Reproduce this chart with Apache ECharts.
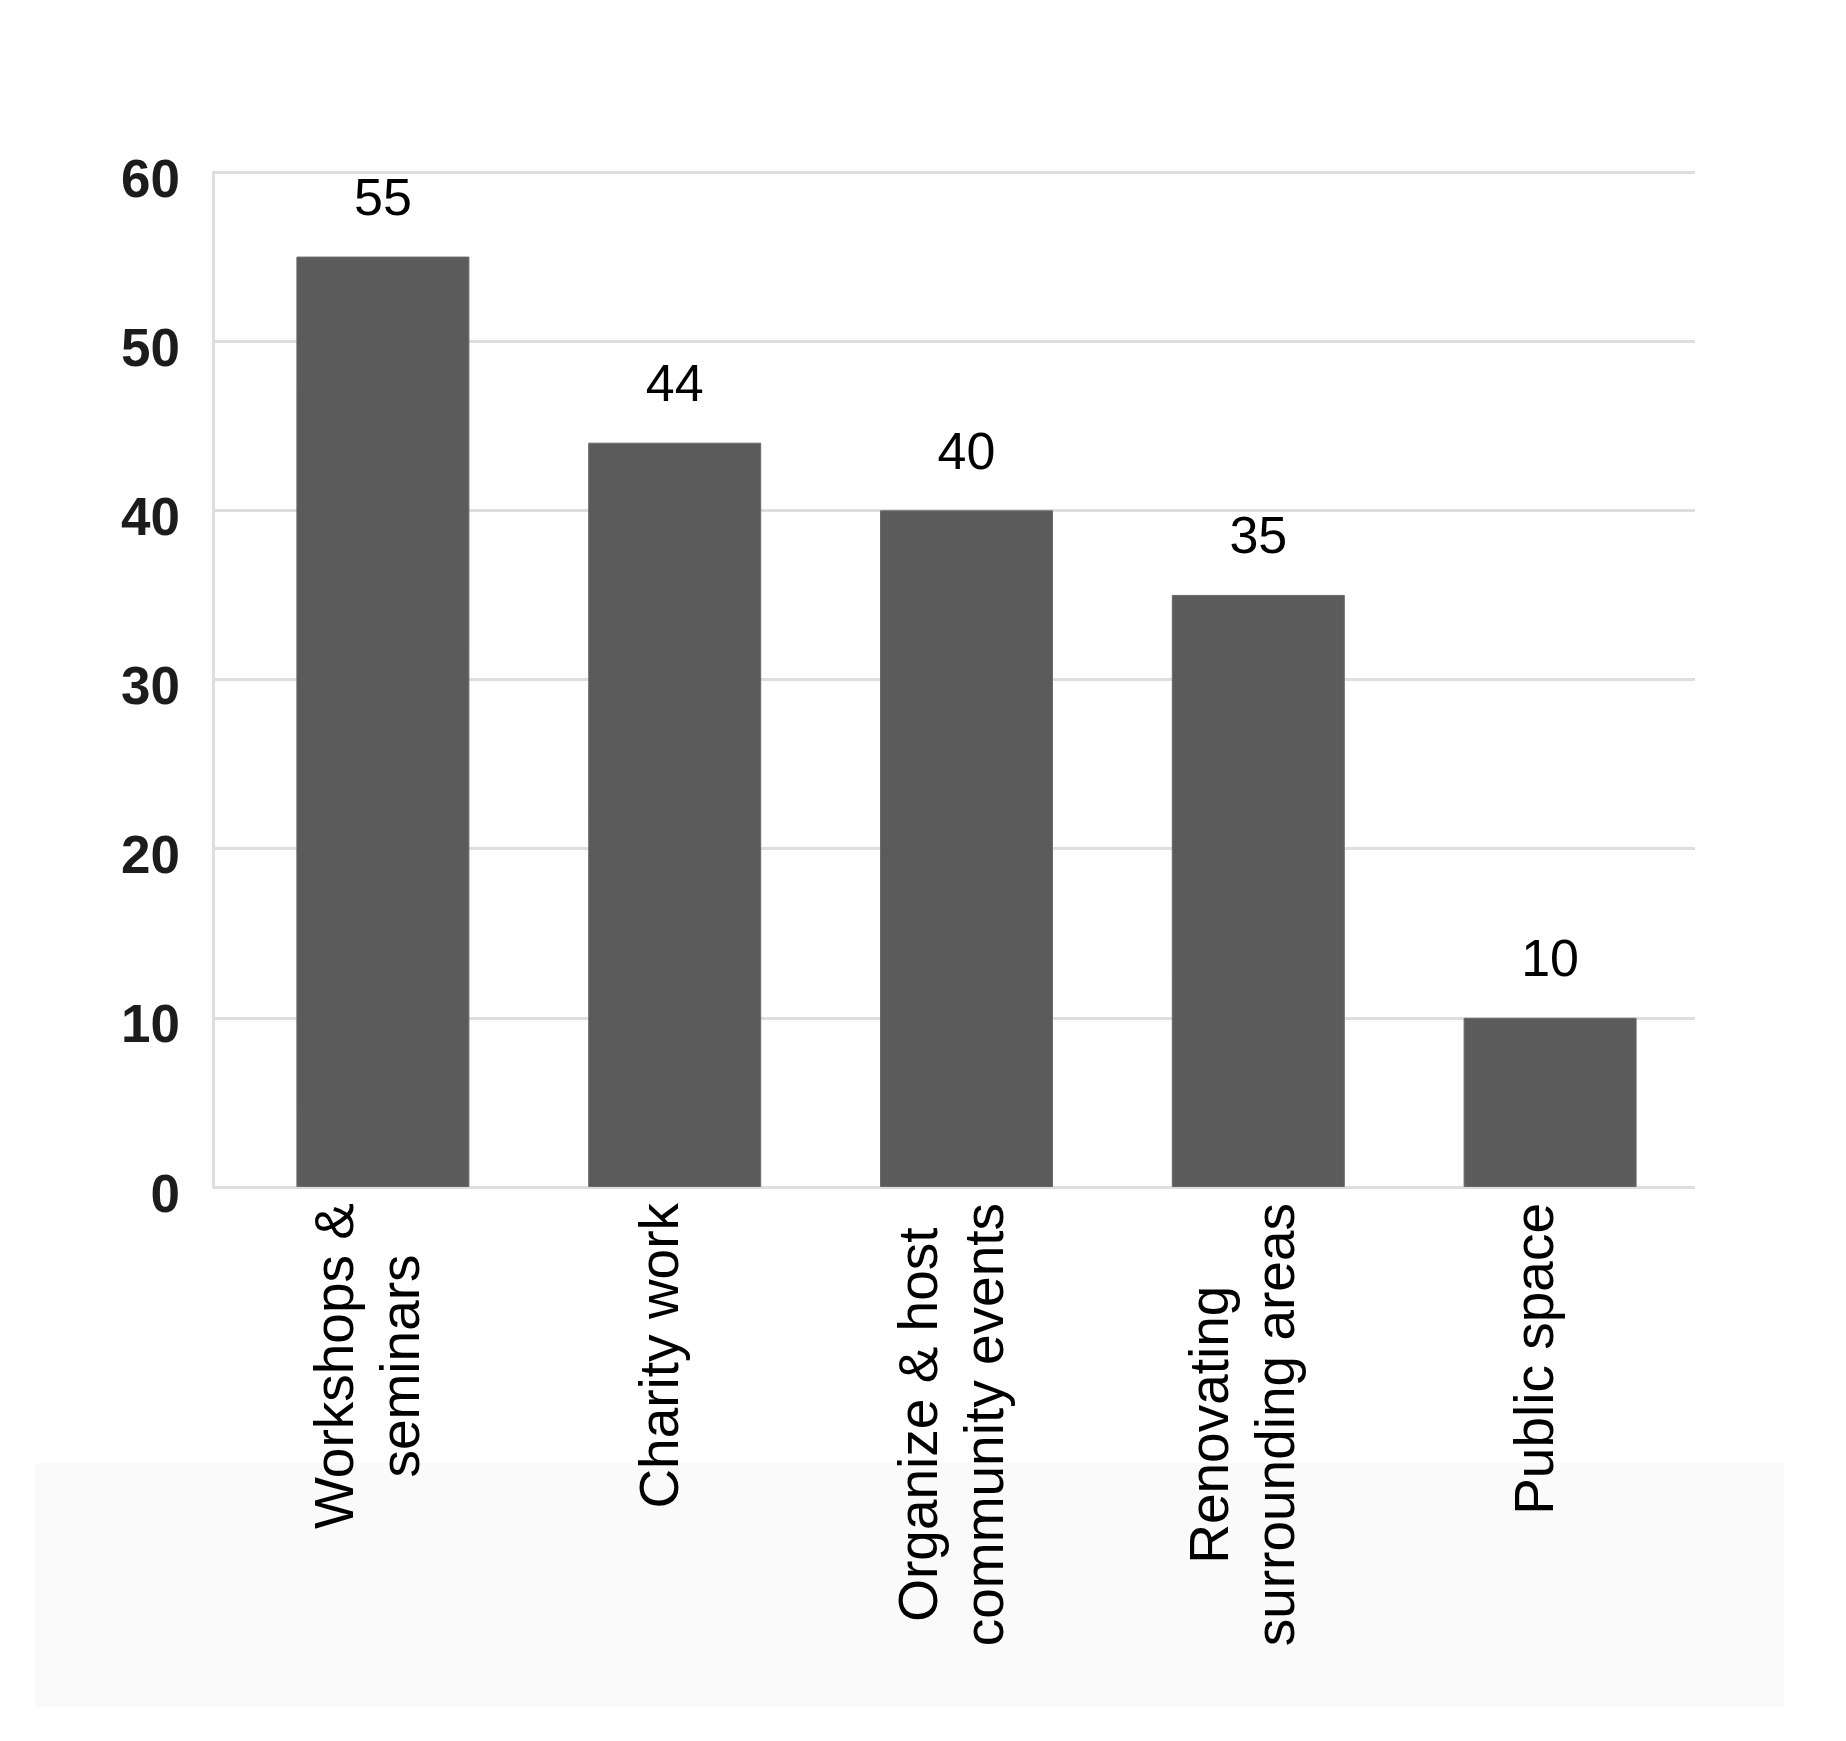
<!DOCTYPE html>
<html>
<head>
<meta charset="utf-8">
<script src="https://cdn.jsdelivr.net/npm/echarts@6/dist/echarts.min.js"></script>
<style>
html,body{margin:0;padding:0;background:#fff;}
#main{width:1846px;height:1741px;}
</style>
</head>
<body>
<div id="main"></div>
<script>
var categories = ['Workshops &\nseminars', 'Charity work', 'Organize & host\ncommunity events', 'Renovating\nsurrounding areas', 'Public space'];
var values = [55, 44, 40, 35, 10];
var yTicks = [0, 10, 20, 30, 40, 50, 60];

var chart = echarts.init(document.getElementById('main'));
chart.setOption({
    backgroundColor: '#fff',
    animation: false,
    graphic: [{
        type: 'rect',
        z: -10,
        shape: {x: 35, y: 1463, width: 1749, height: 244},
        style: {fill: '#fafafa'}
    }],
    grid: [
        // frame with gridlines and y axis
        {left: 213, right: 151, top: 172, bottom: 554},
        // bars, slightly offset from the y axis
        {left: 237, right: 150, top: 172, bottom: 554}
    ],
    xAxis: [{
        gridIndex: 0,
        type: 'category',
        data: categories,
        show: false
    }, {
        gridIndex: 1,
        type: 'category',
        data: categories,
        axisLine: {show: false},
        axisTick: {show: false},
        axisLabel: {
            rotate: 90,
            interval: 0,
            margin: 16,
            padding: [0, 0, 24, 0],
            color: '#000',
            fontFamily: 'Liberation Sans',
            fontSize: 55,
            lineHeight: 66,
            formatter: function (v) {
                return v.split('\n').map(function (s) { return '{c|' + s + '}'; }).join('\n');
            },
            rich: {
                c: {align: 'center', fontFamily: 'Liberation Sans', fontSize: 55, lineHeight: 66, color: '#000'}
            }
        }
    }],
    yAxis: [{
        gridIndex: 0,
        type: 'value',
        min: yTicks[0],
        max: yTicks[yTicks.length - 1],
        interval: 10,
        axisLine: {show: true, lineStyle: {color: '#dedede', width: 3}},
        axisTick: {show: false},
        splitLine: {lineStyle: {color: '#dedede', width: 3}},
        axisLabel: {
            margin: 33,
            color: '#1c1c1c',
            fontFamily: 'Liberation Sans',
            fontWeight: 'bold',
            fontSize: 53,
            verticalAlign: 'top',
            lineHeight: 20
        }
    }, {
        gridIndex: 1,
        type: 'value',
        min: yTicks[0],
        max: yTicks[yTicks.length - 1],
        interval: 10,
        show: false,
        splitLine: {show: false}
    }],
    series: [{
        type: 'bar',
        xAxisIndex: 1,
        yAxisIndex: 1,
        data: values,
        barWidth: 173,
        itemStyle: {color: '#5b5b5b', borderColor: '#6a6a6a', borderWidth: 1},
        label: {
            show: true,
            position: 'top',
            distance: 30,
            color: '#000',
            fontFamily: 'Liberation Sans',
            fontSize: 52
        }
    }]
});
</script>
</body>
</html>
